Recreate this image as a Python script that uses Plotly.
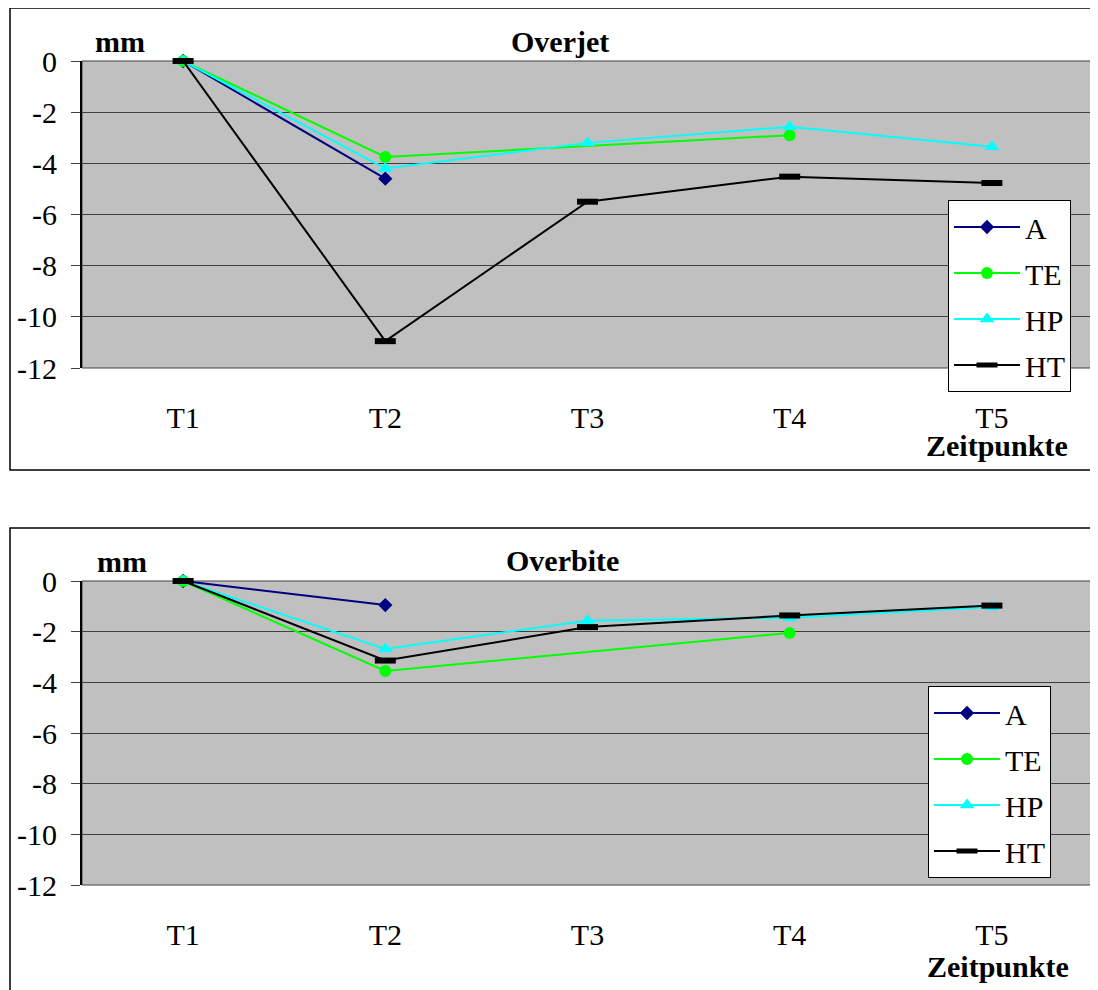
import plotly.graph_objects as go
from plotly.subplots import make_subplots

# ---- data ----
categories = ["T1", "T2", "T3", "T4", "T5"]
y_ticks = [0, -2, -4, -6, -8, -10, -12]
y_tick_labels = ["0", "-2", "-4", "-6", "-8", "-10", "-12"]

overjet_A = [0, -4.6, None, None, None]
overjet_TE = [0, -3.75, None, -2.9, None]
overjet_HP = [0, -4.2, -3.2, -2.57, -3.35]
overjet_HT = [0, -10.95, -5.5, -4.52, -4.77]

overbite_A = [0, -0.95, None, None, None]
overbite_TE = [0, -3.55, None, -2.05, None]
overbite_HP = [0, -2.68, -1.57, -1.45, -1.03]
overbite_HT = [0, -3.14, -1.82, -1.36, -0.97]

# page body has an 8px margin, so work in page pixels and shift
OFF = 8
W, H = 1098 - OFF, 990 - OFF
FONT = "Liberation Serif"
FS = 30


def px(x):
    return (x - OFF) / W


def py(y):
    return 1 - (y - OFF) / H


styles = {
    "A": dict(color="#000080", symbol="diamond", size=11, lw=0),
    "TE": dict(color="#00FF00", symbol="circle", size=12, lw=0),
    "HP": dict(color="#00FFFF", symbol="triangle-up", size=13, lw=0),
    "HT": dict(color="#000000", symbol="line-ew", size=15, lw=6),
}

fig = make_subplots(rows=2, cols=1)


def add_series(name, values, row, legend):
    s = styles[name]
    marker = dict(symbol=s["symbol"], size=s["size"], color=s["color"])
    if s["lw"]:
        marker["line"] = dict(width=s["lw"], color=s["color"])
    fig.add_trace(go.Scatter(x=categories, y=values, name=name, mode="lines+markers",
                             line=dict(color=s["color"], width=2), marker=marker,
                             connectgaps=True, cliponaxis=False,
                             legend=legend, legendgroup=name + legend),
                  row=row, col=1)


for nm, vals in [("A", overjet_A), ("TE", overjet_TE), ("HP", overjet_HP), ("HT", overjet_HT)]:
    add_series(nm, vals, 1, "legend")
for nm, vals in [("A", overbite_A), ("TE", overbite_TE), ("HP", overbite_HP), ("HT", overbite_HT)]:
    add_series(nm, vals, 2, "legend2")

# plot areas (page pixels -> paper coords)
x_dom = [px(82), px(1093)]
top_dom = [py(368), py(61)]
bot_dom = [py(885), py(581)]

axis_font = dict(family=FONT, size=FS, color="black")
for i, dom in [(1, top_dom), (2, bot_dom)]:
    fig.update_xaxes(domain=x_dom, range=[-0.5, 4.5], showgrid=False, zeroline=False,
                     showline=False, ticks="", tickfont=axis_font, automargin=False,
                     ticklabelstandoff=29, row=i, col=1)
    fig.update_yaxes(domain=dom, range=[-12, 0], tickvals=y_ticks, ticktext=y_tick_labels,
                     showgrid=True, gridcolor="#404040", gridwidth=1, zeroline=False,
                     showline=True, linecolor="black", linewidth=2, automargin=False,
                     ticks="outside", ticklen=9, tickcolor="#404040",
                     tickfont=axis_font, ticklabelstandoff=8, row=i, col=1)
    # plot area frame
    sfx = "" if i == 1 else str(i)
    fig.add_shape(type="rect", xref=f"x{sfx} domain", yref=f"y{sfx} domain",
                  x0=0, x1=1, y0=0, y1=1, line=dict(color="#404040", width=1), layer="below")

# outer chart borders
for y0, y1 in [(8, 470), (528, 1000)]:
    fig.add_shape(type="rect", xref="paper", yref="paper",
                  x0=px(10), x1=px(1110), y0=py(y1), y1=py(y0),
                  line=dict(color="black", width=1.5))

bold = dict(family=FONT, size=FS, color="black")
notes = [("<b>mm</b>", 120, 42), ("<b>Overjet</b>", 560, 42),
         ("<b>mm</b>", 122, 561), ("<b>Overbite</b>", 562, 560),
         ("<b>Zeitpunkte</b>", 997, 445), ("<b>Zeitpunkte</b>", 998, 966)]
for txt, x, y in notes:
    fig.add_annotation(text=txt, x=px(x), y=py(y), xref="paper", yref="paper",
                       showarrow=False, font=bold, xanchor="center", yanchor="middle")

legend_style = dict(bgcolor="white", bordercolor="black", borderwidth=1,
                    font=dict(family=FONT, size=FS, color="black"),
                    tracegroupgap=4, itemwidth=66, xanchor="left", yanchor="top")

fig.update_layout(
    width=W, height=H, margin=dict(l=0, r=0, t=0, b=0, autoexpand=False),
    paper_bgcolor="white", plot_bgcolor="#C0C0C0",
    font=dict(family=FONT, color="black"),
    legend=dict(x=px(948), y=py(200), **legend_style),
    legend2=dict(x=px(928), y=py(686), **legend_style),
    showlegend=True,
)

fig.write_html("out.html")
